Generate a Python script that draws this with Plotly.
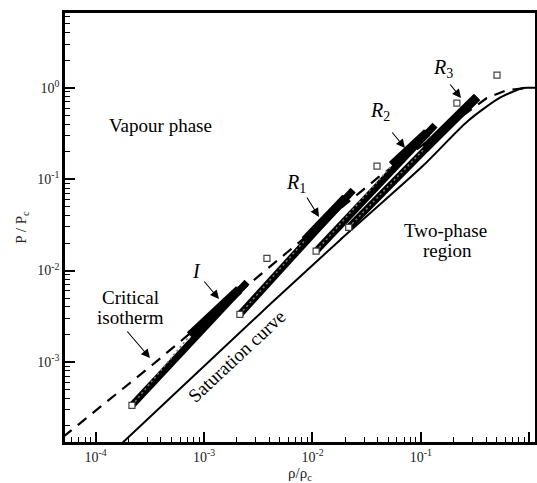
import plotly.graph_objects as go

# ---------------- data ----------------
# Saturation curve (vapour branch) in reduced variables
sat_rho = [1.70e-4, 4.06e-3, 1.79e-2, 0.104, 0.27, 0.537, 0.875, 1.0, 1.15]
sat_P = [1.25e-4, 4.27e-3, 2.15e-2, 0.139, 0.43, 0.78, 0.993, 1.0, 1.0]

# Critical isotherm
iso_rho = [5.0e-5, 3.30e-4, 6.47e-3, 4.06e-2, 0.406, 0.622, 1.0]
iso_P = [1.51e-4, 9.2e-4, 1.75e-2, 0.105, 0.771, 0.944, 1.0]

# State bands I, R1, R2, R3 (start square, end of chevron part, end)
band_names = ["I", "R1", "R2", "R3"]
band_rho_start = [2.16e-4, 2.14e-3, 1.08e-2, 2.16e-2]
band_P_start = [3.35e-4, 3.32e-3, 1.63e-2, 2.97e-2]
band_rho_mid = [7.41e-4, 8.51e-3, 5.41e-2, 0.109]
band_P_mid = [1.95e-3, 2.14e-2, 0.142, 0.218]
band_rho_end = [2.49e-3, 2.37e-2, 0.135, 0.330]
band_P_end = [7.45e-3, 7.59e-2, 0.390, 0.791]

# Isolated squares above the bands
sq_rho = [3.80e-3, 3.94e-2, 0.215, 0.504]
sq_P = [1.36e-2, 0.139, 0.679, 1.377]

# Tick labels
x_tickvals = [1e-4, 1e-3, 1e-2, 1e-1, 1e0]
x_ticktext = ["10<sup>-4</sup>", "10<sup>-3</sup>", "10<sup>-2</sup>", "10<sup>-1</sup>", "10<sup>0</sup>"]
y_tickvals = [1e-3, 1e-2, 1e-1, 1e0]
y_ticktext = ["10<sup>-3</sup>", "10<sup>-2</sup>", "10<sup>-1</sup>", "10<sup>0</sup>"]

# ---------------- figure ----------------
SERIF = "Liberation Serif, Times New Roman, serif"
W, H = 537, 483
L, R, T, B = 65, 2, 13, 41
PW, PH = W - L - R, H - T - B

fig = go.Figure()

fig.add_trace(go.Scatter(x=sat_rho, y=sat_P, mode="lines",
                         line=dict(color="black", width=2, shape="spline", smoothing=0.7),
                         hoverinfo="skip"))
fig.add_trace(go.Scatter(x=iso_rho, y=iso_P, mode="lines",
                         line=dict(color="black", width=2.2, dash="11px,8px"),
                         hoverinfo="skip"))

for i in range(len(band_names)):
    xs = [band_rho_start[i], band_rho_mid[i]]
    ys = [band_P_start[i], band_P_mid[i]]
    xe = [band_rho_mid[i], band_rho_end[i]]
    ye = [band_P_mid[i], band_P_end[i]]
    fig.add_trace(go.Scatter(x=[band_rho_start[i], band_rho_end[i]],
                             y=[band_P_start[i], band_P_end[i]], mode="lines",
                             line=dict(color="black", width=7), hoverinfo="skip"))
    end_marker = dict(symbol="arrow", size=[0, 12], color="black",
                      angleref="previous", line=dict(width=0))
    fig.add_trace(go.Scatter(x=xe, y=ye,
                             mode="lines+markers" if i < 3 else "lines",
                             line=dict(color="black", width=9),
                             marker=end_marker, hoverinfo="skip"))
    fig.add_trace(go.Scatter(x=xs, y=ys, mode="lines",
                             line=dict(color="#7a7a7a", width=1.6, dash="2px,3px"),
                             hoverinfo="skip"))

fig.add_trace(go.Scatter(x=band_rho_start, y=band_P_start, mode="markers",
                         marker=dict(symbol="square", size=6, color="white",
                                     line=dict(color="#444", width=1.2)),
                         hoverinfo="skip"))
fig.add_trace(go.Scatter(x=sq_rho, y=sq_P, mode="markers",
                         marker=dict(symbol="square", size=6, color="white",
                                     line=dict(color="#444", width=1.2)),
                         hoverinfo="skip"))


def px(xp):
    return (xp - L) / PW


def py(yp):
    return (H - B - yp) / PH


annotations = []


def text(xp, yp, s, size=19, angle=0):
    annotations.append(dict(x=px(xp), y=py(yp), xref="paper", yref="paper", text=s,
                            showarrow=False, textangle=angle,
                            font=dict(family=SERIF, size=size, color="black"),
                            xanchor="center", yanchor="middle"))


def arrow(x0, y0, x1, y1):
    annotations.append(dict(x=px(x1), y=py(y1), xref="paper", yref="paper", text="",
                            showarrow=True, ax=x0 - x1, ay=y0 - y1,
                            arrowhead=2, arrowsize=1.6, arrowwidth=1.1, arrowcolor="black"))


text(160, 125, "Vapour phase")
text(445, 230, "Two-phase")
text(447, 250, "region")
text(130, 297, "Critical")
text(130, 317, "isotherm")
text(236, 356, "Saturation curve", angle=-43)
text(196, 271, "<i>I</i>", size=20)
text(296, 183, "<i>R</i><sub>1</sub>", size=20)
text(380, 111, "<i>R</i><sub>2</sub>", size=20)
text(443, 68, "<i>R</i><sub>3</sub>", size=20)
arrow(203, 280, 219, 299)
arrow(126, 330, 150, 358)
arrow(306, 196, 319, 217)
arrow(391, 131, 405, 148)
arrow(449, 83, 461, 98)

minor_x = [k * 10 ** e for e in range(-5, 1) for k in range(2, 10)]
minor_y = [k * 10 ** e for e in range(-4, 1) for k in range(2, 10)]

axis_common = dict(type="log", showline=True, linewidth=2.5, linecolor="black", mirror=True,
                   ticks="inside", ticklen=10, tickwidth=2, tickcolor="black",
                   showgrid=False, zeroline=False, automargin=False,
                   tickfont=dict(family=SERIF, size=14, color="#222"))

fig.update_xaxes(range=[-4.283, 0.053], tickvals=x_tickvals, ticktext=x_ticktext,
                 minor=dict(ticks="inside", ticklen=5, tickwidth=1, tickcolor="black",
                            tickvals=minor_x, showgrid=False),
                 title=dict(text="ρ/ρ<sub>c</sub>", font=dict(family=SERIF, size=15, color="#222"),
                            standoff=3),
                 **axis_common)
fig.update_yaxes(range=[-3.876, 0.818], tickvals=y_tickvals, ticktext=y_ticktext,
                 minor=dict(ticks="inside", ticklen=5, tickwidth=1, tickcolor="black",
                            tickvals=minor_y, showgrid=False),
                 title=dict(text="P / P<sub>c</sub>", font=dict(family=SERIF, size=15, color="#222"),
                            standoff=8),
                 **axis_common)

fig.update_layout(width=W, height=H, margin=dict(l=L, r=R, t=T, b=B),
                  plot_bgcolor="white", paper_bgcolor="white", showlegend=False,
                  font=dict(family=SERIF),
                  annotations=annotations)

fig.write_html("out.html", config={"displayModeBar": False},
               post_script="document.body.style.margin='0';document.body.style.padding='0';")
